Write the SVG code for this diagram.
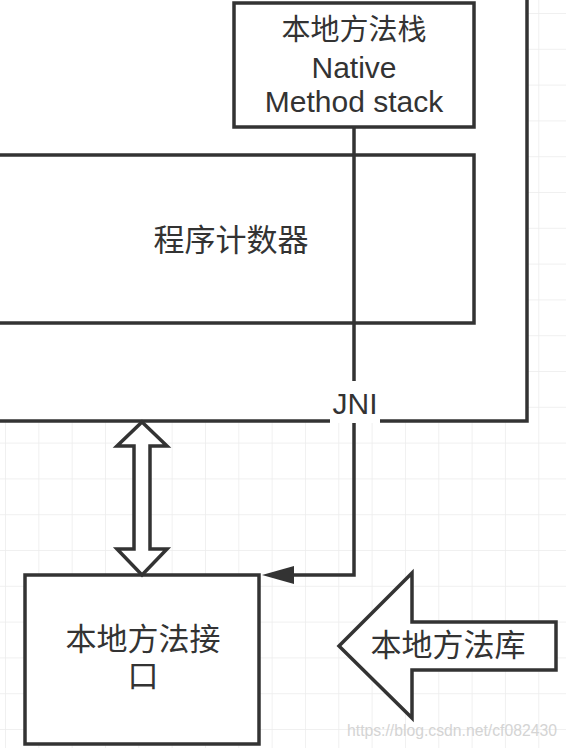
<svg xmlns="http://www.w3.org/2000/svg" width="566" height="748" viewBox="0 0 566 748">
<defs>
<style>
.box{fill:#ffffff;stroke:#333333;stroke-width:3.5}
.lbl{font-family:"Liberation Sans","Noto Sans CJK SC",sans-serif;fill:#333333;text-anchor:middle}
.cjk{font-size:31px}
.cjks{font-size:29px}
.lat{font-size:30px}
.conn{fill:none;stroke:#333333;stroke-width:3.5}
</style>
<pattern id="grid" x="5" y="13" width="33.33" height="35.8" patternUnits="userSpaceOnUse">
<path d="M0 0V35.8M0 0H33.33" fill="none" stroke="#ececec" stroke-width="1.5"/>
</pattern>
<marker id="arr" viewBox="0 0 32 18" refX="2" refY="9" markerWidth="32" markerHeight="18" markerUnits="userSpaceOnUse" orient="auto">
<path d="M32 9L0 0V18Z" fill="#333333"/>
</marker>
</defs>
<rect width="566" height="748" fill="#ffffff"/>
<rect width="566" height="748" fill="url(#grid)"/>
<g id="container">
<rect class="box" x="-10" y="-10" width="537" height="431"/>
</g>
<g id="native-stack">
<rect class="box" x="234" y="3" width="240" height="124"/>
<text class="lbl cjks" x="354" y="40">本地方法栈</text>
<text class="lbl lat" x="354" y="78">Native</text>
<text class="lbl lat" x="354" y="112">Method stack</text>
</g>
<g id="pc">
<rect class="box" x="-10" y="155" width="484" height="168"/>
<text class="lbl cjk" x="231" y="251">程序计数器</text>
</g>
<g id="native-interface">
<rect class="box" x="25" y="575" width="234" height="169"/>
<text class="lbl cjk" x="143" y="650">本地方法接</text>
<text class="lbl cjk" x="143" y="687">口</text>
</g>
<g id="native-library">
<polygon class="box" points="339,646 412,573 412,622 556,622 556,670 412,670 412,718"/>
<text class="lbl cjk" x="448" y="656">本地方法库</text>
</g>
<g id="connectors">
<path class="conn" d="M354 127V575H292" marker-end="url(#arr)"/>
<polygon class="box" points="142,422 167,446 150,446 150,549 167,549 142,575 117,549 134,549 134,446 117,446"/>
<rect x="330" y="381" width="50" height="42" fill="#ffffff"/>
<text class="lbl lat" x="355" y="414">JNI</text>
</g>
<text x="347" y="736" font-family="Liberation Sans,sans-serif" font-size="16" fill="#d4d4d4" textLength="210" lengthAdjust="spacingAndGlyphs">https://blog.csdn.net/cf082430</text>
</svg>
